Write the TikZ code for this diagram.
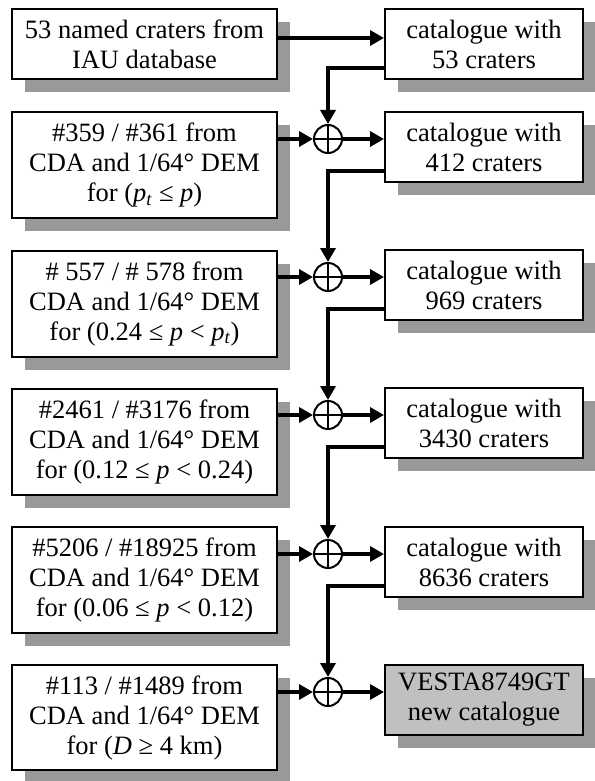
\documentclass[tikz,border=0pt]{standalone}
\usepackage{fontspec}
\setmainfont{Liberation Serif}
\usetikzlibrary{arrows.meta,shadows}
\definecolor{shd}{RGB}{153,153,153}
\definecolor{fillg}{RGB}{192,192,192}
\begin{document}
\begin{tikzpicture}[x=1pt,y=-1pt,
 box/.style={draw, line width=2pt, fill=white, align=center, inner sep=0pt,
   font=\fontsize{26.5}{30}\selectfont,
   drop shadow={shadow xshift=13pt, shadow yshift=-13pt, fill=shd, opacity=1}},
 lbox/.style={box, minimum width=265pt, minimum height=106pt},
 lboxtwo/.style={box, minimum width=265pt, minimum height=70pt},
 rbox/.style={box, minimum width=198pt, minimum height=70pt},
 sumnode/.style={circle, draw, line width=2pt, minimum size=28pt, inner sep=0pt,
   path picture={\draw[line width=1.8pt]
     (path picture bounding box.north) -- (path picture bounding box.south)
     (path picture bounding box.west) -- (path picture bounding box.east);}},
 arr/.style={line width=3.4pt, -{Triangle[length=14pt,width=15pt]}}
]
\useasboundingbox (0,0) rectangle (594,781);

\node[lboxtwo] (L1) at (144.5,44) {53 named craters from\\IAU database};
\node[rbox] (R1) at (484,44) {catalogue with\\53 craters};

\node[lbox] (L2) at (144.5,165) {\#359 / \#361 from\\CDA and 1/64° DEM\\for (\textit{p}\textsubscript{\textit{t}} ≤ \textit{p})};
\node[rbox] (R2) at (484,147) {catalogue with\\412 craters};
\node[sumnode] (C1) at (328,139) {};

\node[lbox] (L3) at (144.5,303.5) {\# 557 / \# 578 from\\CDA and 1/64° DEM\\for (0.24 ≤ \textit{p} < \textit{p}\textsubscript{\textit{t}})};
\node[rbox] (R3) at (484,285) {catalogue with\\969 craters};
\node[sumnode] (C2) at (328,277) {};

\node[lbox] (L4) at (144.5,441.5) {\#2461 / \#3176 from\\CDA and 1/64° DEM\\for (0.12 ≤ \textit{p} < 0.24)};
\node[rbox] (R4) at (484,423) {catalogue with\\3430 craters};
\node[sumnode] (C3) at (328,415) {};

\node[lbox] (L5) at (144.5,580) {\#5206 / \#18925 from\\CDA and 1/64° DEM\\for (0.06 ≤ \textit{p} < 0.12)};
\node[rbox] (R5) at (484,562) {catalogue with\\8636 craters};
\node[sumnode] (C4) at (328,554) {};

\node[lbox, minimum height=105pt] (L6) at (144.5,717.5) {\#113 / \#1489 from\\CDA and 1/64° DEM\\for (\textit{D} ≥ 4 km)};
\node[rbox, fill=fillg] (R6) at (484,700) {VESTA8749GT\\new catalogue};
\node[sumnode] (C5) at (328,692) {};

\draw[arr] ([yshift=6pt]L1.east) -- ([yshift=6pt]R1.west);

\draw[arr] ([yshift=-24pt]R1.west) -| (C1.north);
\draw[arr] ([yshift=-24pt]R2.west) -| (C2.north);
\draw[arr] ([yshift=-24pt]R3.west) -| (C3.north);
\draw[arr] ([yshift=-24pt]R4.west) -| (C4.north);
\draw[arr] ([yshift=-24pt]R5.west) -| (C5.north);

\draw[arr] (L2.east |- C1) -- (C1.west);
\draw[arr] (L3.east |- C2) -- (C2.west);
\draw[arr] (L4.east |- C3) -- (C3.west);
\draw[arr] (L5.east |- C4) -- (C4.west);
\draw[arr] (L6.east |- C5) -- (C5.west);

\draw[arr] (C1.east) -- (R2.west |- C1);
\draw[arr] (C2.east) -- (R3.west |- C2);
\draw[arr] (C3.east) -- (R4.west |- C3);
\draw[arr] (C4.east) -- (R5.west |- C4);
\draw[arr] (C5.east) -- (R6.west |- C5);
\end{tikzpicture}
\end{document}
